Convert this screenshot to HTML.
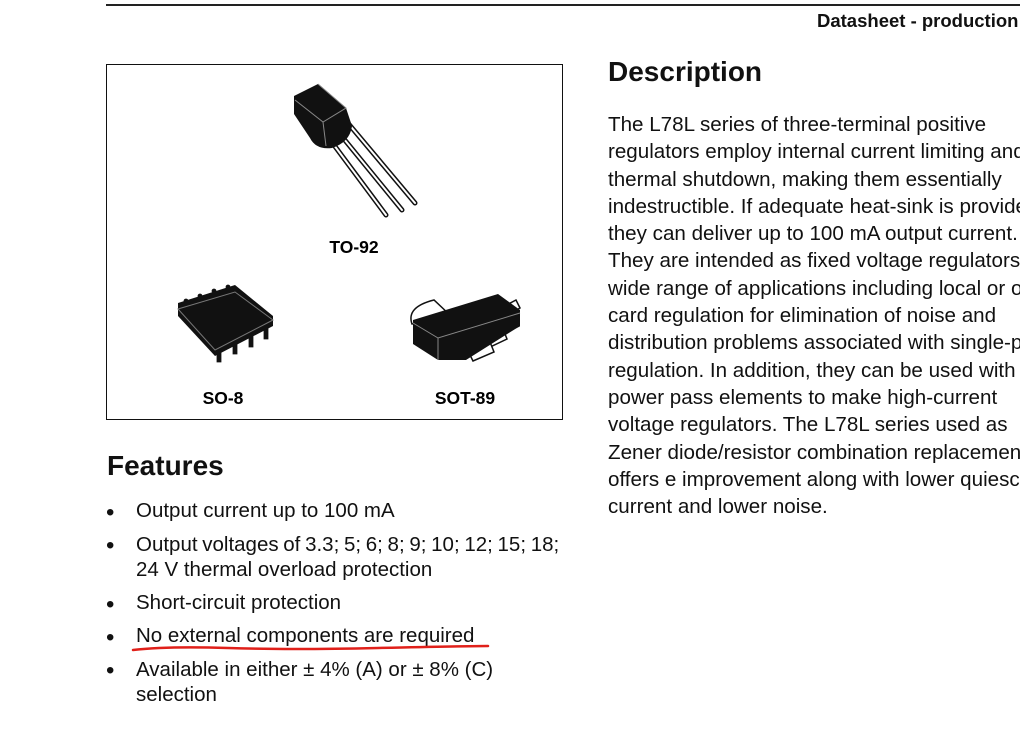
<!DOCTYPE html>
<html><head><meta charset="utf-8"><style>
html,body{margin:0;padding:0;width:1020px;height:755px;overflow:hidden;background:#fff;font-family:"Liberation Sans",Arial,sans-serif;color:#111}
.a{position:absolute;white-space:nowrap}
.d{position:absolute;left:608px;font-size:20.6px;line-height:27.3px;top:111px;white-space:nowrap}
.f{font-size:20.5px}
.b{position:absolute;left:106px;font-size:24px;line-height:24px}
</style></head><body>
<div class="a" style="left:106px;top:4px;width:914px;height:1.5px;background:#222"></div>
<div class="a" style="left:817px;top:10px;font-size:18.5px;font-weight:bold">Datasheet - production</div>
<div class="a" style="left:106px;top:64px;width:455px;height:354px;border:1.5px solid #111"></div>
<svg class="a" style="left:106px;top:64px" width="458" height="357">
 <g stroke-linecap="round">
  <line x1="219" y1="69" x2="280" y2="151" stroke="#111" stroke-width="5"/>
  <line x1="219" y1="69" x2="280" y2="151" stroke="#fff" stroke-width="2"/>
  <line x1="229" y1="64" x2="296" y2="146" stroke="#111" stroke-width="5"/>
  <line x1="229" y1="64" x2="296" y2="146" stroke="#fff" stroke-width="2"/>
  <line x1="241" y1="58" x2="309" y2="139" stroke="#111" stroke-width="5"/>
  <line x1="241" y1="58" x2="309" y2="139" stroke="#fff" stroke-width="2"/>
 </g>
 <path d="M188,32 L212,20 L240,44 L246,62 Q244,78 226,84 Q210,86 204,74 L188,50 Z" fill="#111"/>
 <path d="M212,20 L240,44 L217,58 L189,36" fill="none" stroke="#888" stroke-width="1"/>
 <path d="M217,58 L220,82" stroke="#888" stroke-width="1"/>
 <text x="248" y="189" font-size="17.5" font-weight="bold" text-anchor="middle" font-family="Liberation Sans">TO-92</text>
 <g fill="#111" stroke="#fff" stroke-width="1.2">
  <circle cx="80" cy="237" r="3"/><circle cx="94" cy="232" r="3"/><circle cx="108" cy="227" r="3"/><circle cx="122" cy="223" r="3"/>
  <path d="M110,285 l0,14 l6,0 l0,-14 z"/><path d="M126,277 l0,14 l6,0 l0,-14 z"/><path d="M142,270 l0,14 l6,0 l0,-14 z"/><path d="M157,262 l0,14 l6,0 l0,-14 z"/>
 </g>
 <path d="M72,239 L129,221 L167,252 L167,262 L109,292 L72,252 Z" fill="#111"/>
 <path d="M72,245 L129,228 L167,256 L109,286 Z" fill="none" stroke="#777" stroke-width="1"/>
 <text x="117" y="340" font-size="17.5" font-weight="bold" text-anchor="middle" font-family="Liberation Sans">SO-8</text>
 <path d="M306,260 Q300,243 328,236 L345,252 Z" fill="#fff" stroke="#111" stroke-width="1.5"/>
 <g fill="#fff" stroke="#111" stroke-width="1.5">
  <path d="M390,262 L408,253 L413,262 L395,271 Z"/>
  <path d="M377,275 L397,265 L401,275 L382,284 Z"/>
  <path d="M362,287 L384,278 L388,288 L367,297 Z"/>
  <path d="M395,244 L410,236 L414,244 L400,252 Z"/>
 </g>
 <path d="M307,256 L392,230 L414,246 L414,262 L360,296 L332,296 L307,280 Z" fill="#111"/>
 <path d="M307,259 L332,274 L414,249 M332,274 L332,296" fill="none" stroke="#888" stroke-width="1"/>
 <text x="359" y="340" font-size="17.5" font-weight="bold" text-anchor="middle" font-family="Liberation Sans">SOT-89</text>
</svg>
<div class="a" style="left:608px;top:56px;font-size:28px;font-weight:bold">Description</div>
<div class="d">The L78L series of three-terminal positive<br>regulators employ internal current limiting and<br>thermal shutdown, making them essentially<br>indestructible. If adequate heat-sink is provided,<br>they can deliver up to 100 mA output current.<br>They are intended as fixed voltage regulators in a<br>wide range of applications including local or on-<br>card regulation for elimination of noise and<br>distribution problems associated with single-point<br>regulation. In addition, they can be used with<br>power pass elements to make high-current<br>voltage regulators. The L78L series used as<br>Zener diode/resistor combination replacement,<br>offers e improvement along with lower quiescent<br>current and lower noise.</div>
<div class="a" style="left:107px;top:450px;font-size:28px;font-weight:bold">Features</div>
<div class="b" style="top:501px">•</div><div class="a f" style="left:136px;top:499px">Output current up to 100 mA</div>
<div class="b" style="top:534px">•</div><div class="a f" style="left:136px;top:532px;line-height:25px"><span style="word-spacing:-1px">Output voltages of 3.3; 5; 6; 8; 9; 10; 12; 15; 18;</span><br>24 V thermal overload protection</div>
<div class="b" style="top:593px">•</div><div class="a f" style="left:136px;top:591px">Short-circuit protection</div>
<div class="b" style="top:626px">•</div><div class="a f" style="left:136px;top:624px">No external components are required</div>
<div class="b" style="top:659px">•</div><div class="a f" style="left:136px;top:657px;line-height:25px">Available in either ± 4% (A) or ± 8% (C)<br>selection</div>
<svg class="a" style="left:128px;top:640px" width="370" height="20"><path d="M5 10 Q40 6 100 8 T250 8 T360 6" fill="none" stroke="#e0201a" stroke-width="2.5" stroke-linecap="round"/></svg>
</body></html>
